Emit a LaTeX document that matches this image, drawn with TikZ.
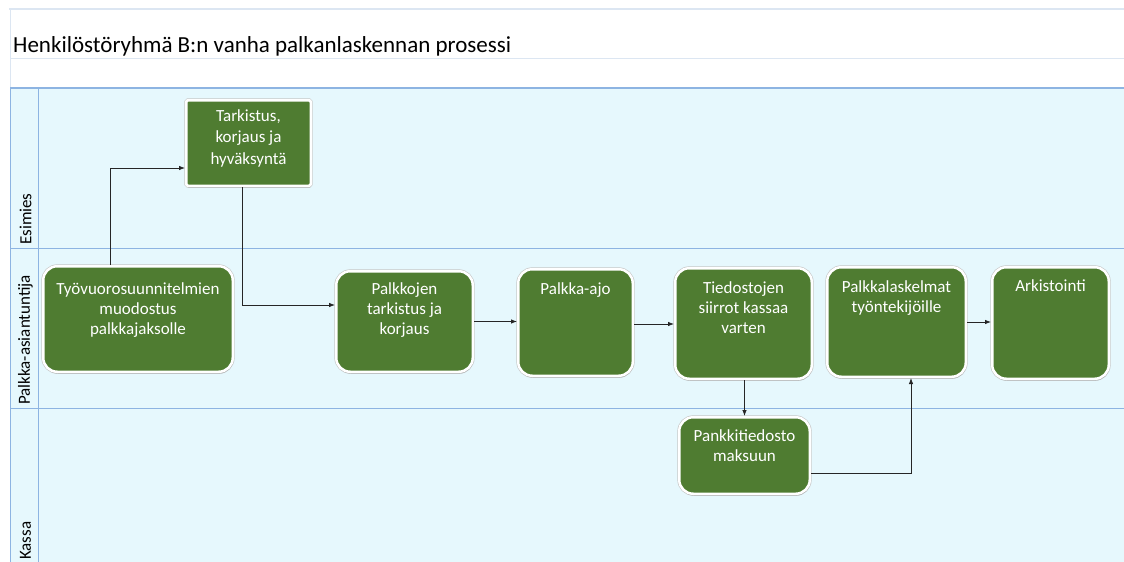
\documentclass[tikz,border=0pt]{standalone}
\usepackage{fontspec}
\setmainfont{Carlito}
\usetikzlibrary{shadows,arrows.meta}
\definecolor{lanefill}{HTML}{E6F8FD}
\definecolor{lanerule}{HTML}{8DB4E2}
\definecolor{palerule}{HTML}{DCE6F2}
\definecolor{boxgreen}{HTML}{4F7C31}
\begin{document}
\begin{tikzpicture}[x=1pt,y=-1pt,
  procbox/.style={draw=white, line width=2.5pt, fill=boxgreen,
    rounded corners=14pt,
    preaction={draw=black!22, line width=3.8pt},
    drop shadow={shadow xshift=0.6pt, shadow yshift=-2pt, fill=black!40, opacity=.45}},
  checkbox/.style={procbox, rounded corners=1.5pt},
  boxtext/.style={anchor=north, inner sep=0pt, align=center, text=white,
    font=\fontsize{17}{20}\selectfont},
  lanelabel/.style={rotate=90, anchor=west, inner sep=0pt,
    font=\fontsize{17}{20}\selectfont},
  flow/.style={draw=black!85, line width=0.8pt,
    -{Latex[length=6pt,width=4.5pt]}},
]
\useasboundingbox (0,0) rectangle (1124,562);
\clip (0,0) rectangle (1124,562);
\fill[white] (0,0) rectangle (1124,562);

% title band
\draw[palerule, line width=1.4pt] (9,9) -- (1124,9);
\draw[palerule, line width=1pt] (10,9) -- (10,88);
\draw[palerule, line width=1pt] (10,58) -- (1124,58);
\node[anchor=base west, inner sep=0pt, font=\fontsize{23}{27}\selectfont]
  (title) at (13,52) {Henkilöstöryhmä B:n vanha palkanlaskennan prosessi};

% pool and lanes
\fill[lanefill] (10,88) rectangle (1124,580);
\draw[lanerule, line width=1.2pt] (10,88) -- (1124,88);
\draw[lanerule, line width=0.8pt] (10,88) -- (10,580);
\draw[lanerule, line width=0.8pt] (38,88) -- (38,580);
\draw[lanerule, line width=0.8pt] (10,248) -- (1124,248);
\draw[lanerule, line width=0.8pt] (10,408) -- (1124,408);
\node[lanelabel] (lane1) at (25.5,245) {Esimies};
\node[lanelabel] (lane2) at (25.5,405) {Palkka-asiantuntija};
\node[lanelabel] (lane3) at (25.5,560) {Kassa};

% process steps
\node[checkbox, minimum width=124.5pt, minimum height=85.5pt] (T) at (248.5,143) {};
\node[procbox, minimum width=189.5pt, minimum height=105.5pt] (A) at (138,319) {};
\node[procbox, minimum width=136.5pt, minimum height=100.5pt] (B) at (404.5,321.5) {};
\node[procbox, minimum width=114.5pt, minimum height=106.5pt] (C) at (575.5,322.5) {};
\node[procbox, minimum width=136.5pt, minimum height=110.5pt] (D) at (743.5,323.5) {};
\node[procbox, minimum width=138.5pt, minimum height=109.5pt] (E) at (896.5,322) {};
\node[procbox, minimum width=116.5pt, minimum height=111.5pt] (F) at (1050.5,323) {};
\node[procbox, minimum width=130.5pt, minimum height=76.5pt] (G) at (744.5,455.5) {};

\node[boxtext, font=\fontsize{17}{21.5}\selectfont] (Tt) at ([yshift=-10pt]T.north)
  {Tarkistus,\\korjaus ja\\hyväksyntä};
\node[boxtext] (At) at ([yshift=-17pt]A.north)
  {Työvuorosuunnitelmien\\muodostus\\palkkajaksolle};
\node[boxtext] (Bt) at ([yshift=-12pt]B.north) {Palkkojen\\tarkistus ja\\korjaus};
\node[boxtext] (Ct) at ([yshift=-14pt]C.north) {Palkka-ajo};
\node[boxtext] (Dt) at ([yshift=-14pt]D.north) {Tiedostojen\\siirrot kassaa\\varten};
\node[boxtext] (Et) at ([yshift=-14pt]E.north) {Palkkalaskelmat\\työntekijöille};
\node[boxtext] (Ft) at ([yshift=-13pt]F.north) {Arkistointi};
\node[boxtext] (Gt) at ([yshift=-13pt]G.north) {Pankkitiedosto\\maksuun};

% connectors
\draw[flow] ([xshift=-28pt]A.north) |- ([yshift=-25pt]T.west);
\draw[flow] ([xshift=-6.5pt]T.south) |- ([yshift=16.5pt]B.west);
\draw[flow] (B.east) -- (B.east -| C.west);
\draw[flow] ([yshift=-1.5pt]C.east) -- ([yshift=-1.5pt]C.east -| D.west);
\draw[flow] ([xshift=1pt]D.south) -- ([xshift=1pt]D.south |- G.north);
\draw[flow] ([yshift=-17.5pt]G.east) -| ([xshift=14.5pt]E.south);
\draw[flow] (E.east) -- (E.east -| F.west);
\end{tikzpicture}
\end{document}
